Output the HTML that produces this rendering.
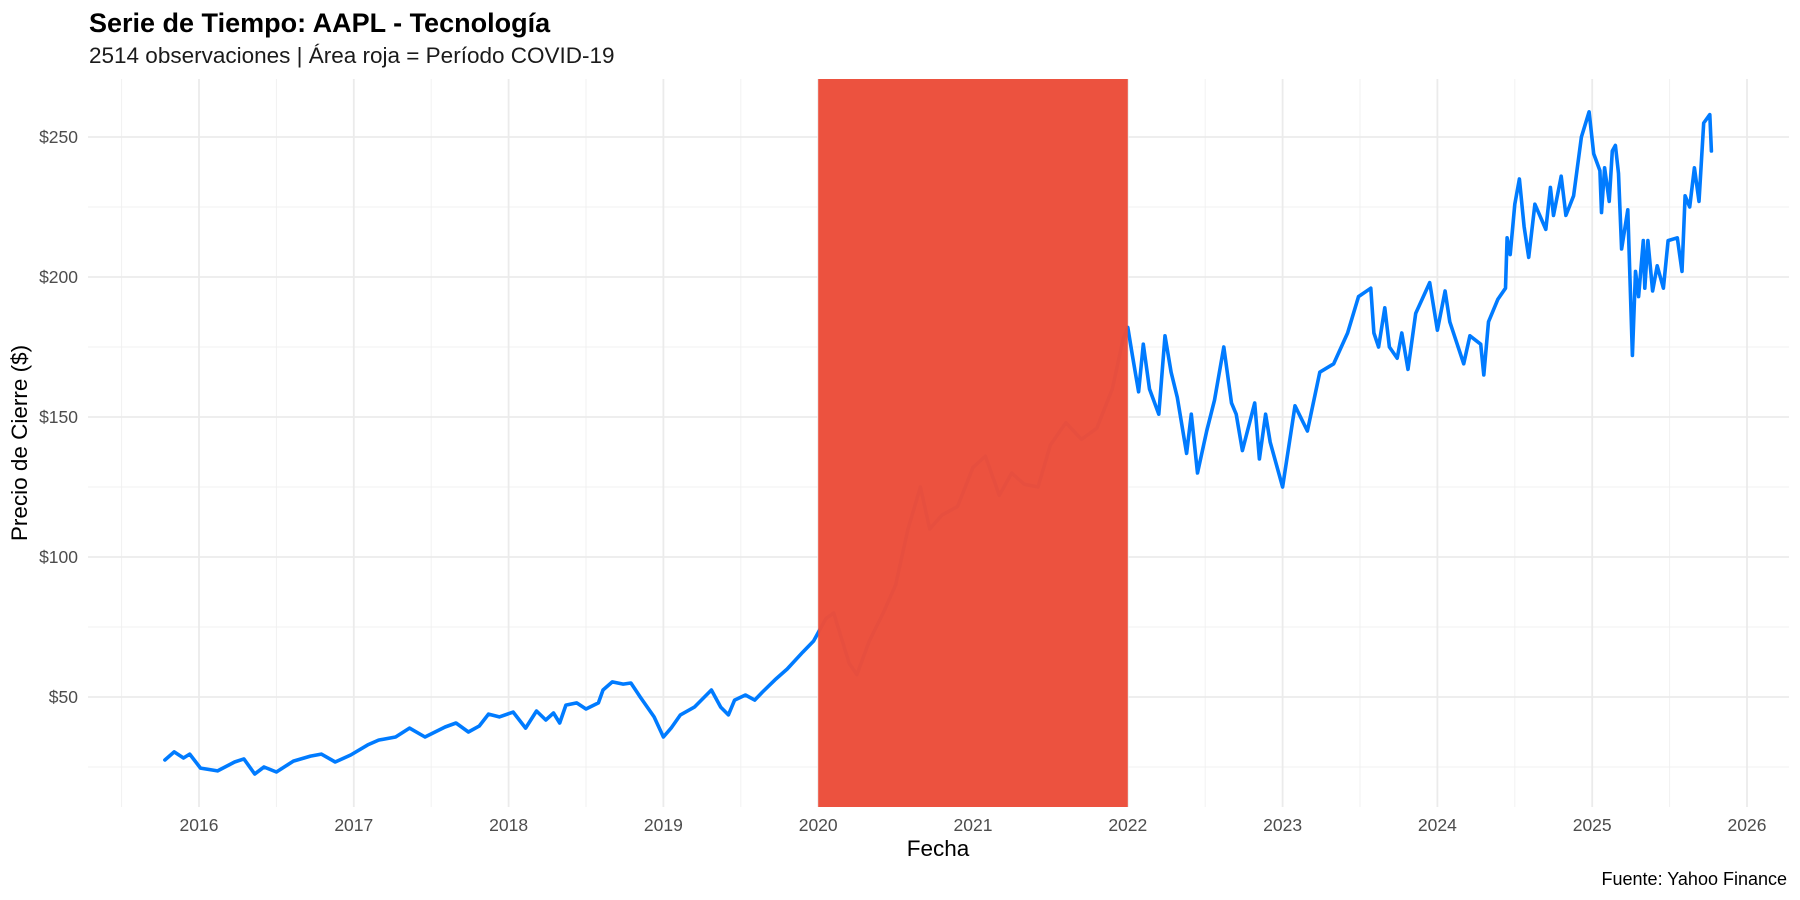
<!DOCTYPE html>
<html><head><meta charset="utf-8"><style>
html,body{margin:0;padding:0;background:#fff;}
svg{display:block;font-family:"Liberation Sans",sans-serif;}
</style></head><body>
<svg id="chart" width="1800" height="900" viewBox="0 0 1800 900" xmlns="http://www.w3.org/2000/svg">
<text x="89" y="32" font-size="27" font-weight="bold" fill="#000">Serie de Tiempo: AAPL - Tecnología</text>
<text x="89" y="63" font-size="22.5" fill="#1a1a1a">2514 observaciones | Área roja = Período COVID-19</text>
<g id="grid"></g>
<g id="series"></g>
<g id="shade"></g>
<g id="axes"></g>
<text x="938" y="856" font-size="22.5" text-anchor="middle" fill="#000">Fecha</text>
<text transform="translate(27,443) rotate(-90)" font-size="22.5" text-anchor="middle" fill="#000">Precio de Cierre ($)</text>
<text x="1787" y="885" font-size="18" text-anchor="end" fill="#000">Fuente: Yahoo Finance</text>
</svg>
<script>
const yearTicks = [2016,2017,2018,2019,2020,2021,2022,2023,2024,2025,2026];
const yTicks = [50,100,150,200,250];
const yTickLabels = ["$50","$100","$150","$200","$250"];
const covidStart = 2020.0;
const covidEnd = 2022.0;
const dates = [2015.78,2015.84,2015.90,2015.94,2016.01,2016.12,2016.23,2016.29,2016.36,2016.42,2016.50,2016.61,2016.72,2016.79,2016.88,2016.98,2017.09,2017.16,2017.27,2017.36,2017.46,2017.59,2017.66,2017.74,2017.81,2017.87,2017.94,2018.03,2018.11,2018.18,2018.24,2018.29,2018.33,2018.37,2018.44,2018.50,2018.58,2018.61,2018.67,2018.74,2018.79,2018.85,2018.94,2019.00,2019.05,2019.11,2019.20,2019.31,2019.37,2019.42,2019.46,2019.53,2019.59,2019.64,2019.72,2019.80,2019.90,2019.97,2020.05,2020.10,2020.20,2020.25,2020.33,2020.42,2020.50,2020.58,2020.66,2020.72,2020.80,2020.90,2021.00,2021.08,2021.17,2021.25,2021.33,2021.42,2021.50,2021.60,2021.70,2021.80,2021.90,2021.97,2022.00,2022.03,2022.07,2022.10,2022.14,2022.20,2022.24,2022.28,2022.32,2022.38,2022.41,2022.45,2022.51,2022.56,2022.62,2022.67,2022.70,2022.74,2022.82,2022.85,2022.89,2022.92,2023.00,2023.08,2023.16,2023.24,2023.33,2023.42,2023.49,2023.57,2023.59,2023.62,2023.66,2023.69,2023.74,2023.77,2023.81,2023.86,2023.95,2024.00,2024.05,2024.08,2024.17,2024.21,2024.28,2024.30,2024.33,2024.39,2024.44,2024.45,2024.47,2024.50,2024.53,2024.56,2024.59,2024.63,2024.70,2024.73,2024.75,2024.80,2024.83,2024.88,2024.93,2024.98,2025.01,2025.05,2025.06,2025.08,2025.11,2025.13,2025.15,2025.17,2025.19,2025.23,2025.26,2025.28,2025.30,2025.33,2025.34,2025.36,2025.39,2025.42,2025.46,2025.49,2025.55,2025.58,2025.60,2025.63,2025.66,2025.69,2025.72,2025.76,2025.77];
const prices = [27.5,30.4,28.2,29.6,24.6,23.6,26.8,27.9,22.5,25.0,23.2,27.1,28.9,29.6,26.8,29.3,32.9,34.6,35.7,38.9,35.7,39.3,40.7,37.5,39.6,43.9,42.9,44.6,38.9,45.0,41.8,44.3,40.7,47.1,47.9,45.7,47.9,52.5,55.4,54.6,55.0,50.0,42.9,35.7,38.9,43.6,46.4,52.5,46.4,43.6,48.9,50.7,48.9,51.8,56.1,60,66,70,78,80,62,58,70,80,90,110,125,110,115,118,132,136,122,130,126,125,140,148,142,146,160,178,182,172,159,176,160,151,179,166,157,137,151,130,145,156,175,155,151,138,155,135,151,141,125,154,145,166,169,180,193,196,180,175,189,175,171,180,167,187,198,181,195,184,169,179,176,165,184,192,196,214,208,226,235,218,207,226,217,232,222,236,222,229,250,259,244,238,223,239,227,245,247,237,210,224,172,202,193,213,196,213,195,204,196,213,214,202,229,225,239,227,255,258,245];

const NS="http://www.w3.org/2000/svg";
const L=88,R=1789,T=79,B=807;
function xs(y){return 199+(y-2016)*154.8;}
function ys(p){return 837-p*2.8;}
function mk(tag,attrs,parent){const e=document.createElementNS(NS,tag);for(const k in attrs)e.setAttribute(k,attrs[k]);parent.appendChild(e);return e;}
const grid=document.getElementById('grid'),axes=document.getElementById('axes');
for(let i=0;i<yTicks.length;i++){
  const v=yTicks[i]-25;
  const ln=mk('line',{x1:L,x2:R,y1:ys(v),y2:ys(v),stroke:'#f0f0f0','stroke-width':0.9},grid);
  
  
}
for(let i=0;i<yearTicks.length;i++){
  const v=yearTicks[i]-0.5;
  const ln=mk('line',{x1:xs(v),x2:xs(v),y1:T,y2:B,stroke:'#f0f0f0','stroke-width':0.9},grid);
  
  
}
for(let i=0;i<yTicks.length;i++){
  const y=ys(yTicks[i]);
  const ln=mk('line',{x1:L,x2:R,y1:y,y2:y,stroke:'#ebebeb','stroke-width':1.8},grid);
  
  
  const t=mk('text',{x:78,y:y+6,'font-size':17.5,'text-anchor':'end',fill:'#4d4d4d'},axes);
  t.textContent=yTickLabels[i];
  
  
}
for(let i=0;i<yearTicks.length;i++){
  const x=xs(yearTicks[i]);
  const ln=mk('line',{x1:x,x2:x,y1:T,y2:B,stroke:'#ebebeb','stroke-width':1.8},grid);
  
  
  const t=mk('text',{x:x,y:831,'font-size':17.5,'text-anchor':'middle',fill:'#4d4d4d'},axes);
  t.textContent=String(yearTicks[i]);
  
  
}
let d='';
for(let i=0;i<dates.length;i++){d+=(i?'L':'M')+xs(dates[i]).toFixed(1)+' '+ys(prices[i]).toFixed(1);}
const path=mk('path',{d:d,fill:'none',stroke:'#007BFF','stroke-width':3.6,'stroke-linejoin':'round','stroke-linecap':'round'},document.getElementById('series'));


const rc=mk('rect',{x:xs(covidStart),y:T,width:xs(covidEnd)-xs(covidStart),height:B-T,fill:'#EC4F3B','fill-opacity':0.98},document.getElementById('shade'));


</script>
</body></html>
